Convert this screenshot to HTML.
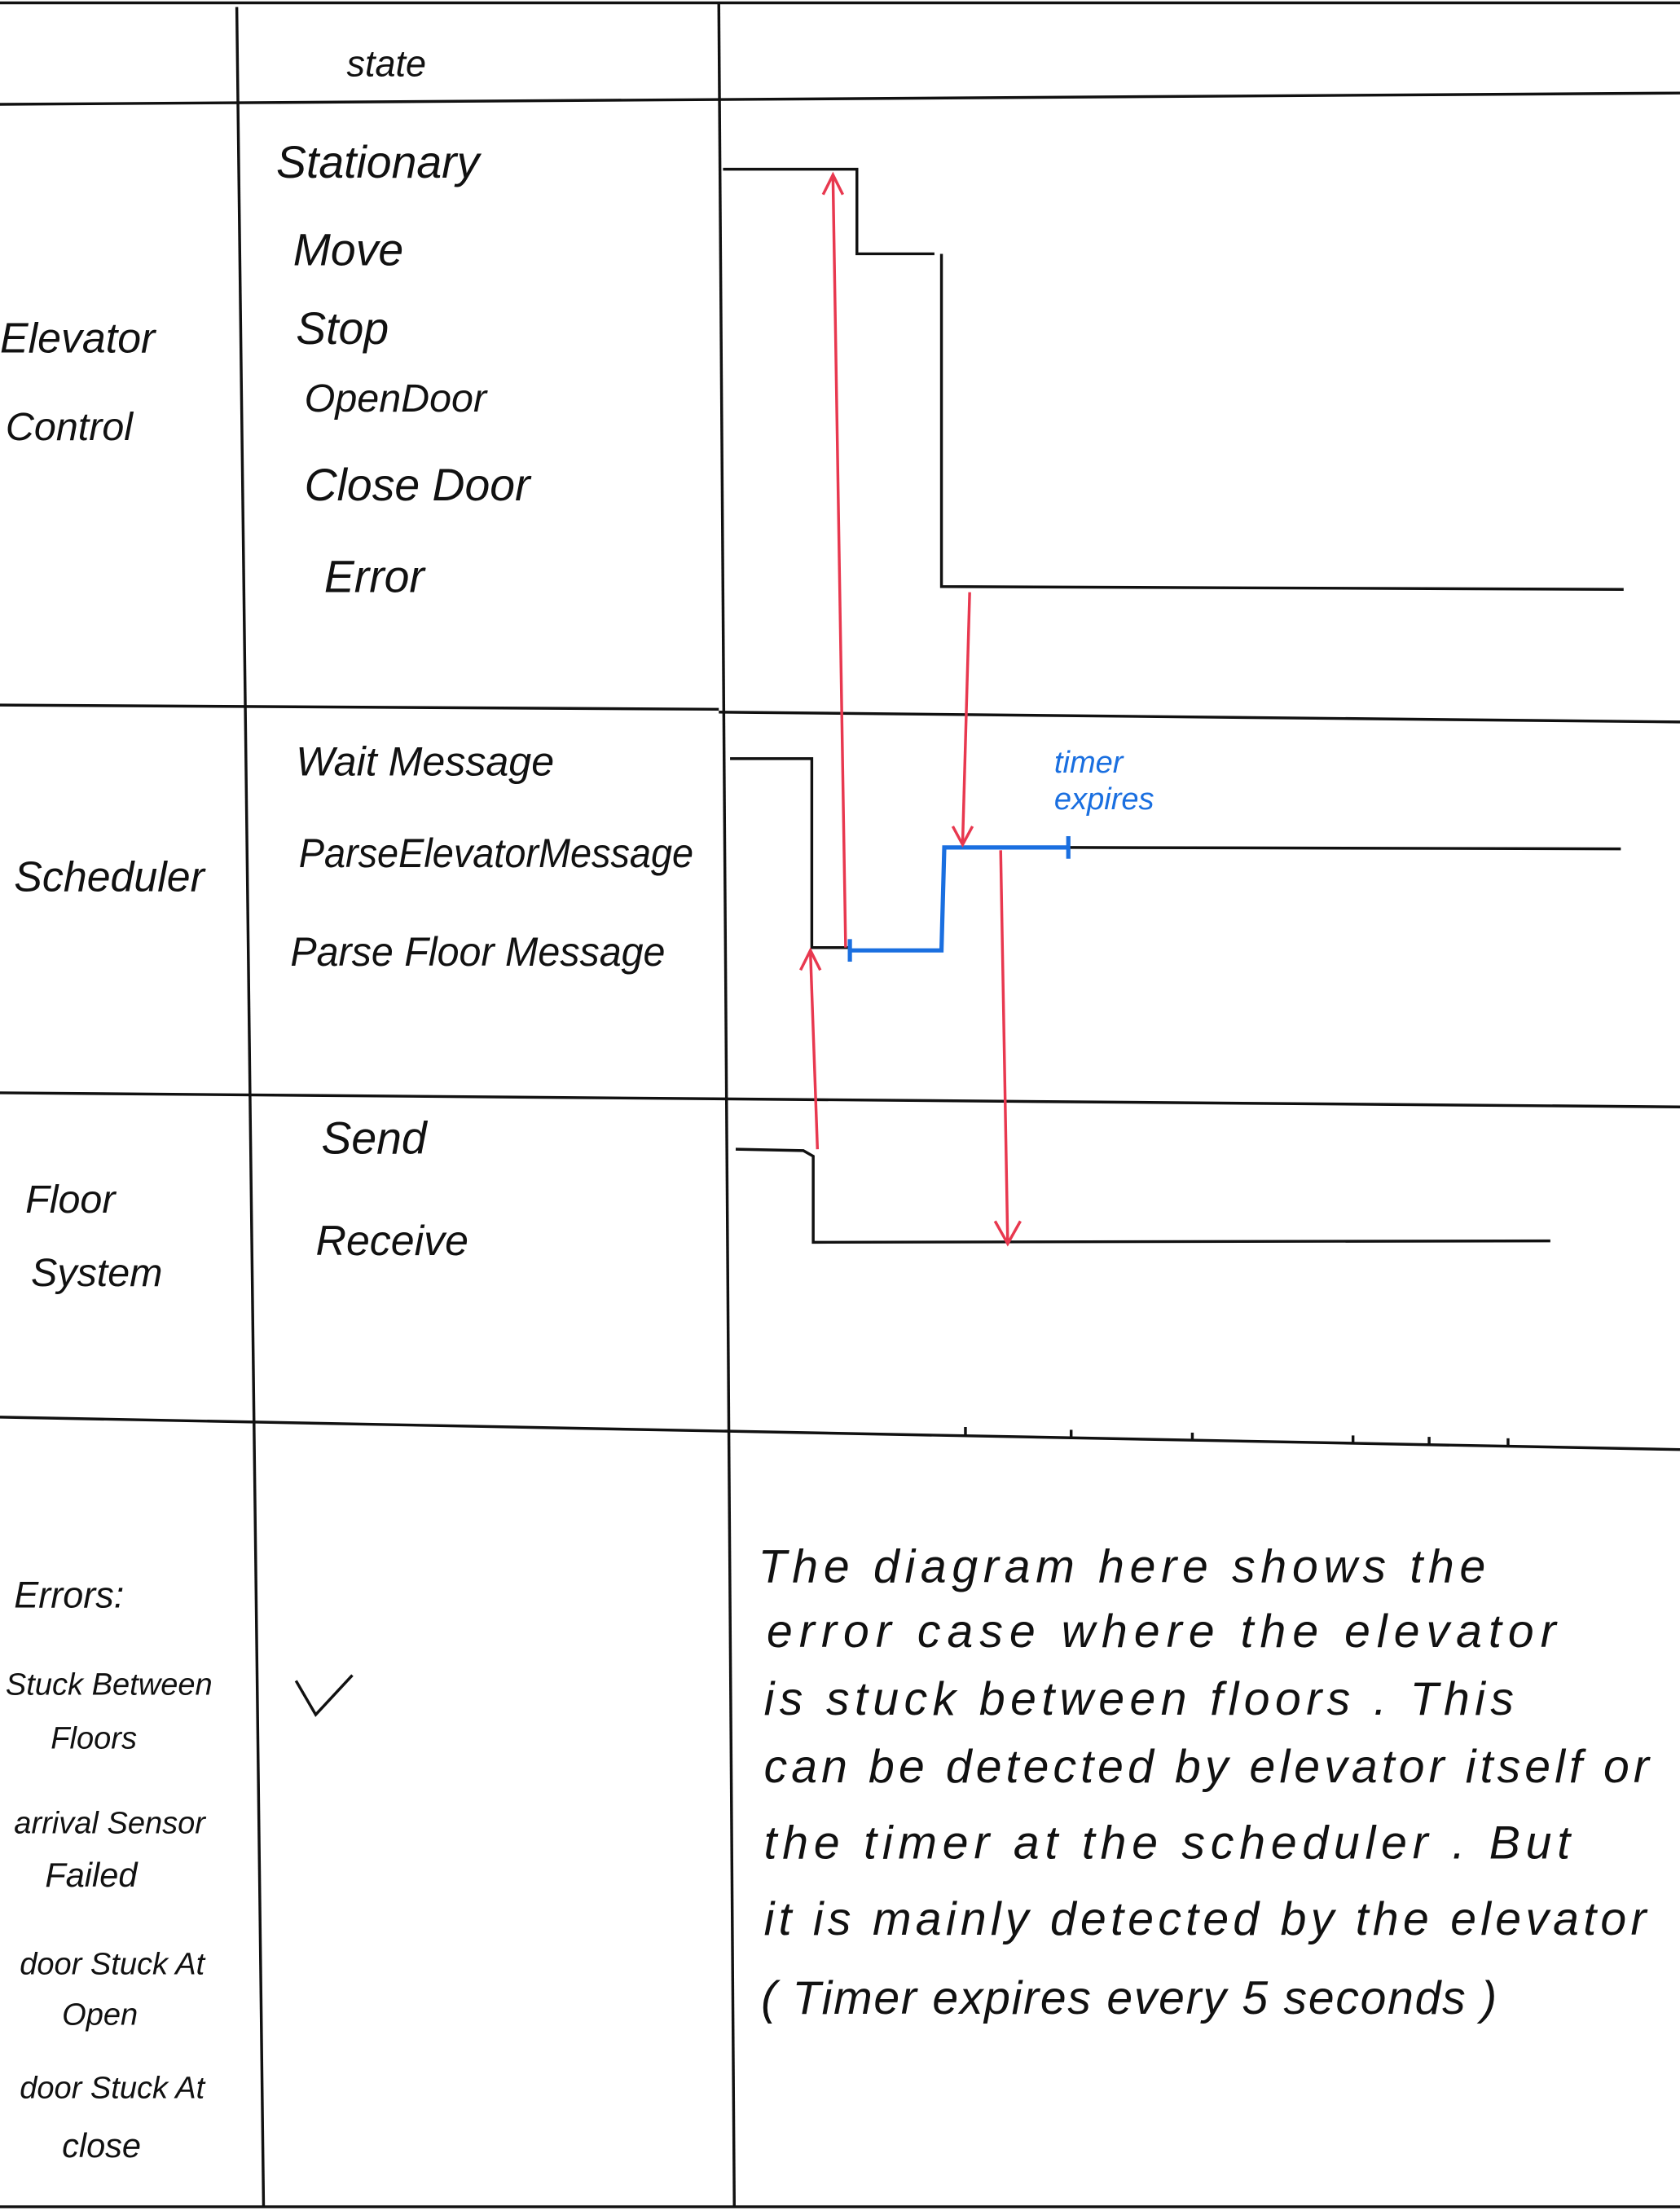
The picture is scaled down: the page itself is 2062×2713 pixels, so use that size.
<!DOCTYPE html>
<html><head><meta charset="utf-8"><style>
html,body{margin:0;padding:0;background:#fff;}
svg{display:block;}
text{font-family:"Liberation Sans",sans-serif;font-style:italic;fill:#111;}
</style></head><body>
<svg width="2062" height="2713" viewBox="0 0 1192 1568" preserveAspectRatio="none" xmlns="http://www.w3.org/2000/svg">
<rect width="1192" height="1568" fill="#fff"/>
<g stroke="#111" stroke-width="2" fill="none">
<line x1="0" y1="2" x2="1192" y2="2"/>
<line x1="0" y1="74" x2="1192" y2="66"/>
<line x1="168" y1="5" x2="187" y2="1565"/>
<line x1="510" y1="2" x2="521" y2="1565"/>
<line x1="0" y1="500" x2="510" y2="503"/>
<line x1="510" y1="505" x2="1192" y2="512"/>
<line x1="0" y1="775" x2="1192" y2="785"/>
<line x1="0" y1="1005" x2="1192" y2="1028"/>
<line x1="0" y1="1565" x2="1192" y2="1565"/>
<polyline points="513,120 608,120 608,180 663,180"/>
<polyline points="668,180 668,416 1152,418"/>
<polyline points="518,538 576,538 576,672 603,672"/>
<line x1="758" y1="601" x2="1150" y2="602"/>
<polyline points="522,815 570,816 577,820 577,881 1100,880"/>
<line x1="685" y1="1012" x2="685" y2="1018"/>
<line x1="760" y1="1014" x2="760" y2="1020"/>
<line x1="846" y1="1016" x2="846" y2="1022"/>
<line x1="960" y1="1018" x2="960" y2="1024"/>
<line x1="1014" y1="1019" x2="1014" y2="1025"/>
<line x1="1070" y1="1020" x2="1070" y2="1026"/>
<polyline points="210,1192 224,1216 250,1188"/>
</g>
<g stroke="#1a6fe0" stroke-width="3" fill="none">
<polyline points="603,674 668,674 670,601 758,601"/>
<line x1="603" y1="666" x2="603" y2="682"/>
<line x1="758" y1="593" x2="758" y2="609"/>
</g>
<g stroke="#e8384f" stroke-width="2" fill="none">
<line x1="600" y1="672" x2="591" y2="125"/>
<polyline points="584,138 591,124 598,138"/>
<line x1="688" y1="420" x2="683" y2="598"/>
<polyline points="676,586 683,599 690,586"/>
<line x1="580" y1="815" x2="575" y2="675"/>
<polyline points="568,688 575,674 582,688"/>
<line x1="710" y1="603" x2="715" y2="882"/>
<polyline points="706,866 715,882 724,866"/>
</g>
<text x="748" y="548" font-size="22" style="fill:#1a6fe0">timer</text>
<text x="748" y="574" font-size="22" style="fill:#1a6fe0">expires</text>
<g font-size="28">
<text x="246" y="54" font-size="26">state</text>
<text x="196" y="126" font-size="32">Stationary</text>
<text x="208" y="188" font-size="32">Move</text>
<text x="210" y="244" font-size="32">Stop</text>
<text x="216" y="292">OpenDoor</text>
<text x="216" y="355" font-size="32">Close Door</text>
<text x="230" y="420" font-size="32">Error</text>
<text x="0" y="250" font-size="30">Elevator</text>
<text x="4" y="312">Control</text>
<text x="210" y="550" font-size="29">Wait Message</text>
<text x="212" y="615" font-size="29" textLength="280" lengthAdjust="spacingAndGlyphs">ParseElevatorMessage</text>
<text x="206" y="685" font-size="29" textLength="266" lengthAdjust="spacingAndGlyphs">Parse Floor Message</text>
<text x="10" y="632" font-size="30">Scheduler</text>
<text x="228" y="818" font-size="32">Send</text>
<text x="224" y="890" font-size="30">Receive</text>
<text x="18" y="860">Floor</text>
<text x="22" y="912">System</text>
<text x="10" y="1140" font-size="26">Errors:</text>
<text x="4" y="1202" font-size="22">Stuck Between</text>
<text x="36" y="1240" font-size="22">Floors</text>
<text x="10" y="1300" font-size="22">arrival Sensor</text>
<text x="32" y="1338" font-size="24">Failed</text>
<text x="14" y="1400" font-size="22">door Stuck At</text>
<text x="44" y="1436" font-size="22">Open</text>
<text x="14" y="1488" font-size="22">door Stuck At</text>
<text x="44" y="1530" font-size="24">close</text>
</g>
<g font-size="33">
<text x="538" y="1122" textLength="516" lengthAdjust="spacing">The  diagram  here  shows   the</text>
<text x="544" y="1168" textLength="560" lengthAdjust="spacing">error case  where  the  elevator</text>
<text x="542" y="1216" textLength="532" lengthAdjust="spacing">is  stuck  between  floors . This</text>
<text x="542" y="1264" textLength="628" lengthAdjust="spacing">can  be  detected  by  elevator  itself  or</text>
<text x="542" y="1318" textLength="572" lengthAdjust="spacing">the  timer   at  the  scheduler . But</text>
<text x="542" y="1372" textLength="626" lengthAdjust="spacing">it  is  mainly  detected  by  the  elevator</text>
<text x="540" y="1428" textLength="522" lengthAdjust="spacing">( Timer  expires  every  5  seconds )</text>
</g>
</svg>
</body></html>
